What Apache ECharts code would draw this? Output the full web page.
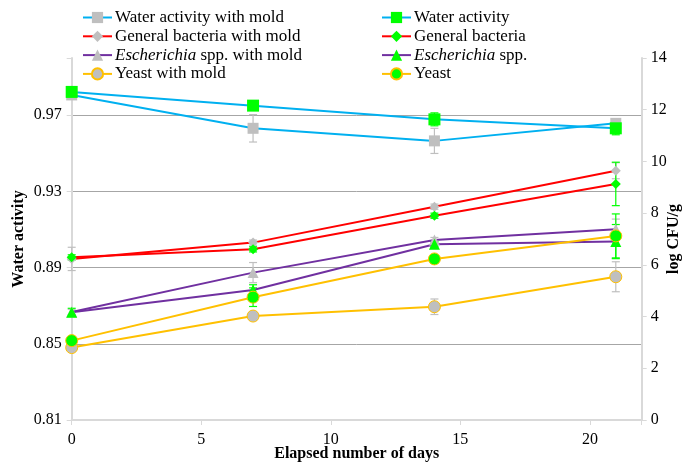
<!DOCTYPE html>
<html>
<head>
<meta charset="utf-8">
<script src="https://cdn.jsdelivr.net/npm/echarts@6/dist/echarts.min.js"></script>
<style>html,body{margin:0;padding:0;background:#fff;}#c{width:687px;height:466px;}</style>
</head>
<body>
<div id="c"></div>
<script>
// ---- data ----
const days = [0, 7, 14, 21];
const xTicks = [0, 5, 10, 15, 20];
const waMold = [0.9806, 0.9631, 0.9565, 0.9657];
const wa     = [0.9822, 0.9750, 0.9678, 0.9631];
const gbMold = [6.23, 6.86, 8.25, 9.64];
const gb     = [6.29, 6.60, 7.90, 9.13];
const ecMold = [4.18, 5.70, 6.96, 7.38];
const ec     = [4.17, 5.03, 6.80, 6.90];
const yMold  = [2.80, 4.02, 4.38, 5.54];
const ye     = [3.07, 4.75, 6.23, 7.12];
// error bar half-widths
const waMoldErr = [0.001, 0.0072, 0.0066, 0.0015];
const waErr     = [0.001, 0.001, 0.0034, 0.0034];
const gbMoldErr = [0.45, 0.1, 0.1, 0.31];
const gbErr     = [0.1, 0.1, 0.1, 0.84];
const ecMoldErr = [0.1, 0.39, 0.1, 0.39];
const ecErr     = [0.15, 0.2, 0.1, 0.66];
const yMoldErr  = [0.1, 0.1, 0.3, 0.58];
const yErr      = [0.1, 0.36, 0.1, 0.85];

const FONT = '"Liberation Serif", "DejaVu Serif", serif';
const GRAY = '#bfbfbf', GREEN = '#00ff00';
const C_WA = '#00b0f0', C_GB = '#ff0000', C_EC = '#7030a0', C_Y = '#ffc000';

function pts(arr){ return days.map((d,i)=>[d, arr[i]]); }
function errData(arr, err){ return days.map((d,i)=>[d, arr[i]-err[i], arr[i]+err[i]]); }
function errSeries(arr, err, color, yIdx){
  return {
    type:'custom', yAxisIndex:yIdx, z:3, silent:true,
    data: errData(arr, err),
    encode:{x:0, y:[1,2]},
    renderItem:function(params, api){
      const x = api.value(0);
      const lo = api.coord([x, api.value(1)]);
      const hi = api.coord([x, api.value(2)]);
      const w = 4;
      const st = {stroke:color, lineWidth:1.2};
      return {type:'group', children:[
        {type:'line', shape:{x1:lo[0], y1:lo[1], x2:hi[0], y2:hi[1]}, style:st},
        {type:'line', shape:{x1:lo[0]-w, y1:lo[1], x2:lo[0]+w, y2:lo[1]}, style:st},
        {type:'line', shape:{x1:hi[0]-w, y1:hi[1], x2:hi[0]+w, y2:hi[1]}, style:st}
      ]};
    }
  };
}
function lineSeries(name, arr, color, symbol, size, fill, border, yIdx){
  return {
    name:name, type:'line', yAxisIndex:yIdx, z:4,
    data: pts(arr),
    symbol:symbol, symbolSize:size, showAllSymbol:true,
    lineStyle:{color:color, width:2},
    itemStyle:{color:fill, borderColor:border||fill, borderWidth:border?1:0},
    emphasis:{disabled:true},
    animation:false
  };
}

const col1 = ['Water activity with mold','General bacteria with mold','Escherichia spp. with mold','Yeast with mold'];
const col2 = ['Water activity','General bacteria','Escherichia spp.','Yeast'];

function legendCfg(names, left){
  return {
    data:names, orient:'vertical', left:left, top:4,
    itemWidth:29, itemHeight:14, itemGap:1.8,
    selectedMode:false,
    textStyle:{fontFamily:FONT, fontSize:17, color:'#000', padding:[0,0,0,-2],
      rich:{i:{fontFamily:FONT, fontSize:17, fontStyle:'italic', color:'#000'}}},
    formatter:function(n){ return n.replace('Escherichia','{i|Escherichia}'); }
  };
}

const option = {
  animation:false,
  backgroundColor:'#fff',
  grid:{left:71.7, right:45.3, top:58, bottom:46, outerBoundsMode:'none', containLabel:false},
  legend:[legendCfg(col1, 77), legendCfg(col2, 376)],
  xAxis:{
    type:'value', min:0, max:22, interval:5,
    name:'Elapsed number of days', nameLocation:'middle', nameGap:26, nameMoveOverlap:false,
    nameTextStyle:{fontFamily:FONT, fontSize:16, fontWeight:'bold', color:'#000'},
    axisLine:{lineStyle:{color:'#d9d9d9', width:2}},
    axisTick:{show:true, length:5, lineStyle:{color:'#d9d9d9', width:1}},
    axisLabel:{fontFamily:FONT, fontSize:16, color:'#000', margin:12,
      formatter:function(v){ return xTicks.indexOf(v)>=0 ? String(v) : ''; }},
    splitLine:{show:false}
  },
  yAxis:[{
    type:'value', min:0.81, max:1.0, interval:0.04, position:'left',
    name:'Water activity', nameLocation:'middle', nameGap:45, nameRotate:90, nameMoveOverlap:false,
    nameTextStyle:{fontFamily:FONT, fontSize:16, fontWeight:'bold', color:'#000'},
    axisLine:{show:true, lineStyle:{color:'#d9d9d9', width:2}},
    axisTick:{show:true, length:5, lineStyle:{color:'#d9d9d9'}},
    axisLabel:{fontFamily:FONT, fontSize:16, color:'#000', margin:10,
      formatter:function(v){ return v>0.99 ? '' : v.toFixed(2); }},
    splitLine:{show:true, showMinLine:false, showMaxLine:false, lineStyle:{color:'#a6a6a6', width:1}}
  },{
    type:'value', min:0, max:14, interval:2, position:'right',
    name:'log CFU/g', nameLocation:'middle', nameGap:24, nameRotate:90, nameMoveOverlap:false,
    nameTextStyle:{fontFamily:FONT, fontSize:16, fontWeight:'bold', color:'#000'},
    axisLine:{show:true, lineStyle:{color:'#d9d9d9', width:2}},
    axisTick:{show:true, length:5, lineStyle:{color:'#d9d9d9'}},
    axisLabel:{fontFamily:FONT, fontSize:16, color:'#000', margin:9},
    splitLine:{show:false}
  }],
  series:[
    errSeries(waMold, waMoldErr, GRAY, 0),
    errSeries(gbMold, gbMoldErr, GRAY, 1),
    errSeries(ecMold, ecMoldErr, GRAY, 1),
    errSeries(yMold, yMoldErr, GRAY, 1),
    lineSeries('Water activity with mold', waMold, C_WA, 'rect', 11, GRAY, null, 0),
    lineSeries('General bacteria with mold', gbMold, C_GB, 'diamond', 10, GRAY, null, 1),
    lineSeries('Escherichia spp. with mold', ecMold, C_EC, 'triangle', 11, GRAY, null, 1),
    lineSeries('Yeast with mold', yMold, C_Y, 'circle', 12, GRAY, C_Y, 1),
    errSeries(wa, waErr, GREEN, 0),
    errSeries(gb, gbErr, GREEN, 1),
    errSeries(ec, ecErr, GREEN, 1),
    errSeries(ye, yErr, GREEN, 1),
    lineSeries('Water activity', wa, C_WA, 'rect', 12, GREEN, null, 0),
    lineSeries('General bacteria', gb, C_GB, 'diamond', 10, GREEN, null, 1),
    lineSeries('Escherichia spp.', ec, C_EC, 'triangle', 11, GREEN, null, 1),
    lineSeries('Yeast', ye, C_Y, 'circle', 12, GREEN, C_Y, 1)
  ]
};
const chart = echarts.init(document.getElementById('c'), null, {renderer:'canvas'});
chart.setOption(option);
</script>
</body>
</html>
